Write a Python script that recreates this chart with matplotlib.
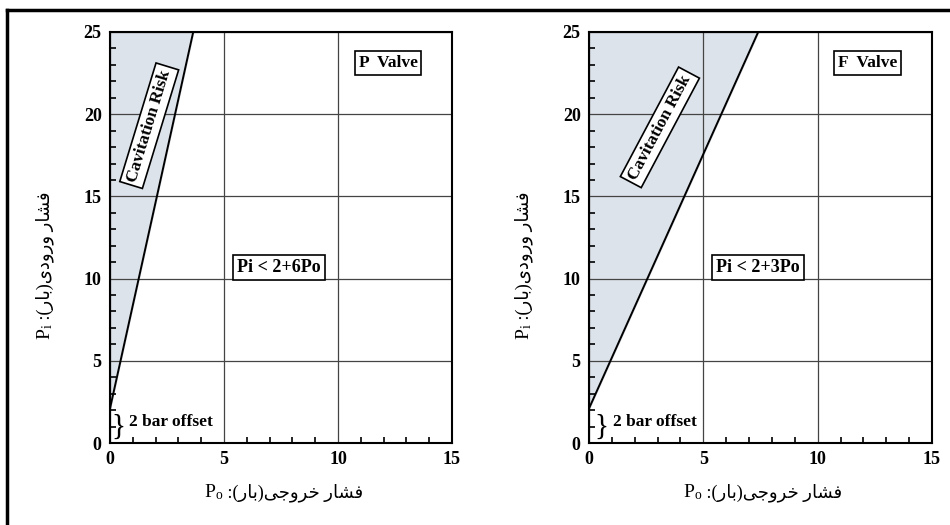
"""Cavitation risk charts for P and F valves"""

import matplotlib.pyplot as plt
from matplotlib.ticker import MultipleLocator
from matplotlib.lines import Line2D

plt.rcParams['font.family'] = ['Liberation Serif', 'DejaVu Sans']
plt.rcParams['font.weight'] = 'bold'
plt.rcParams['mathtext.fontset'] = 'custom'
plt.rcParams['mathtext.rm'] = 'Liberation Serif'
plt.rcParams['mathtext.it'] = 'Liberation Serif:italic'

# limit lines (outlet pressure, inlet pressure)
po_p = [0, 3.65]
pi_p = [2.1, 25]
po_f = [0, 7.4]
pi_f = [2.1, 25]

valve_names = ['P  Valve', 'F  Valve']
rules = ['Pi < 2+6Po', 'Pi < 2+3Po']

# Persian labels in visual order with presentation forms (no bidi in matplotlib)
fshar = '\uFEAD\uFE8E\uFEB8\uFED3'          # فشار
khoruji = '\uFBFD\uFE9F\uFEED\uFEAE\uFEA7'   # خروجی
vorudi = '\uFBFC\uFEA9\uFEED\uFEAD\uFEED'    # ورودی
bar = '\uFEAD\uFE8E\uFE91'                   # بار
xlabel_fa = ' :(' + bar + ')' + khoruji + ' ' + fshar
ylabel_fa = ' :(' + bar + ')' + vorudi + ' ' + fshar

shade = '#dde3ea'

fig = plt.figure(figsize=(9.5, 5.25), dpi=100)
ax_p = fig.add_axes([110 / 950, 1 - 443 / 525, 342 / 950, 411 / 525])
ax_f = fig.add_axes([589 / 950, 1 - 443 / 525, 343 / 950, 411 / 525])

setup = [
    (ax_p, po_p, pi_p, valve_names[0], rules[0], (1.72, 19.3), 73, (0.85, 1.25)),
    (ax_f, po_f, pi_f, valve_names[1], rules[1], (3.1, 19.2), 62, (1.05, 1.25)),
]

for ax, po, pi, name, rule, cav_pos, cav_rot, off_pos in setup:
    ax.fill_betweenx(pi, [0, 0], po, color=shade, zorder=0)
    ax.fill_between([0, po[1]], [pi[0], pi[1]], [25, 25], color=shade, zorder=0)
    ax.plot(po, pi, color='black', linewidth=1.4, zorder=3)

    ax.set_xlim(0, 15)
    ax.set_ylim(0, 25)
    ax.set_xticks([0, 5, 10, 15])
    ax.set_yticks([0, 5, 10, 15, 20, 25])
    ax.xaxis.set_minor_locator(MultipleLocator(1))
    ax.yaxis.set_minor_locator(MultipleLocator(1))
    ax.tick_params(which='both', direction='in', top=False, right=False)
    ax.tick_params(which='major', length=0, labelsize=13, pad=6)
    ax.tick_params(which='minor', length=4, width=1.2)
    for lab in ax.get_xticklabels() + ax.get_yticklabels():
        lab.set_fontweight('bold')
    ax.grid(True, which='major', color='#444444', linewidth=0.9)
    ax.set_axisbelow(True)
    for sp in ax.spines.values():
        sp.set_linewidth(1.5)

    box = dict(boxstyle='square,pad=0.22', facecolor='white', edgecolor='black', linewidth=1.2)
    ax.text(12.2, 23.1, name, ha='center', va='center', fontsize=12.5,
            fontweight='bold', bbox=box, zorder=5)
    ax.text(7.4, 10.7, rule, ha='center', va='center', fontsize=13,
            fontweight='bold', bbox=box, zorder=5)
    ax.text(cav_pos[0], cav_pos[1], 'Cavitation Risk', ha='center', va='center',
            fontsize=12.5, fontweight='bold', rotation=cav_rot,
            rotation_mode='anchor', bbox=box, zorder=5)
    ax.text(off_pos[0] - 0.5, 1.0, '}', ha='center', va='center', fontsize=21,
            fontweight='normal', zorder=5)
    ax.text(off_pos[0], off_pos[1], '2 bar offset', ha='left', va='center',
            fontsize=12.5, fontweight='bold', zorder=5)

    # axis labels: latin symbol + persian words drawn side by side
    ax.text(0.33, -0.12, r'$\mathregular{P_o}$', transform=ax.transAxes,
            ha='right', va='center', fontsize=14, fontweight='normal')
    ax.text(0.33, -0.12, xlabel_fa, transform=ax.transAxes,
            ha='left', va='center', fontsize=13, fontweight='normal')
    ax.text(-0.19, 0.29, r'$\mathregular{P_i}$', transform=ax.transAxes,
            ha='center', va='top', rotation=90, fontsize=14, fontweight='normal')
    ax.text(-0.19, 0.29, ylabel_fa, transform=ax.transAxes,
            ha='center', va='bottom', rotation=90, fontsize=13, fontweight='normal')

# outer frame of the figure (top and left edges)
fig.add_artist(Line2D([7 / 950, 1], [1 - 10 / 525, 1 - 10 / 525],
                      transform=fig.transFigure, color='black', linewidth=2.5))
fig.add_artist(Line2D([7 / 950, 7 / 950], [0, 1 - 10 / 525],
                      transform=fig.transFigure, color='black', linewidth=2.5))

plt.savefig('out.png', dpi=100)
